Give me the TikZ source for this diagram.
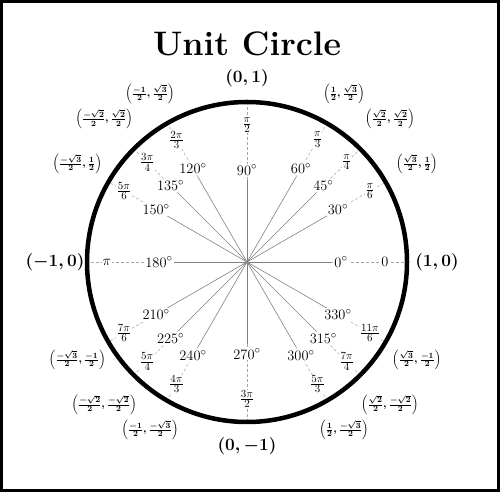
\documentclass[tikz,border=0pt]{standalone}
\usepackage{amsmath}
\usetikzlibrary{calc}
\begin{document}
\begin{tikzpicture}[x=1pt,y=1pt,
  deg/.style={fill=white,inner sep=1pt,font=\fontsize{15}{15}\selectfont},
  rad/.style={fill=white,inner sep=0.5pt,font=\fontsize{15}{15}\selectfont},
  crd/.style={inner sep=0pt,font=\fontsize{11}{11}\selectfont\boldmath},
  axc/.style={inner sep=0pt,font=\fontsize{16}{16}\selectfont\boldmath},
  spoke/.style={gray,line width=0.6pt},
  dashline/.style={gray!70,line width=0.5pt,dash pattern=on 3pt off 2pt}]
\useasboundingbox (0,0) rectangle (500,492);
\draw[line width=3pt] (1.5,1.5) rectangle (498.5,490.5);
\node[font=\fontsize{34}{34}\selectfont\bfseries] (title) at (247,448) {Unit Circle};
\coordinate (o) at (247,230);
\foreach \a/\dr/\r/\rr/\c/\cr/\s in {
  0/94/0/138/{(1,0)}/190/axc,
  30/105/{\frac{\pi}{6}}/142/{\left(\frac{\sqrt3}{2},\frac12\right)}/196/crd,
  45/108/{\frac{\pi}{4}}/141/{\left(\frac{\sqrt2}{2},\frac{\sqrt2}{2}\right)}/202/crd,
  60/108/{\frac{\pi}{3}}/141/{\left(\frac12,\frac{\sqrt3}{2}\right)}/194/crd,
  90/92/{\frac{\pi}{2}}/137/{(0,1)}/184/axc,
  120/108/{\frac{2\pi}{3}}/141/{\left(\frac{-1}{2},\frac{\sqrt3}{2}\right)}/194/crd,
  135/108/{\frac{3\pi}{4}}/141/{\left(\frac{-\sqrt2}{2},\frac{\sqrt2}{2}\right)}/202/crd,
  150/105/{\frac{5\pi}{6}}/142/{\left(\frac{-\sqrt3}{2},\frac12\right)}/196/crd,
  180/88/{\pi}/140/{(-1,0)}/192/axc,
  210/105/{\frac{7\pi}{6}}/142/{\left(\frac{-\sqrt3}{2},\frac{-1}{2}\right)}/196/crd,
  225/108/{\frac{5\pi}{4}}/141/{\left(\frac{-\sqrt2}{2},\frac{-\sqrt2}{2}\right)}/202/crd,
  240/108/{\frac{4\pi}{3}}/141/{\left(\frac{-1}{2},\frac{-\sqrt3}{2}\right)}/194/crd,
  270/92/{\frac{3\pi}{2}}/137/{(0,-1)}/184/axc,
  300/108/{\frac{5\pi}{3}}/141/{\left(\frac12,\frac{-\sqrt3}{2}\right)}/194/crd,
  315/108/{\frac{7\pi}{4}}/141/{\left(\frac{\sqrt2}{2},\frac{-\sqrt2}{2}\right)}/202/crd,
  330/105/{\frac{11\pi}{6}}/142/{\left(\frac{\sqrt3}{2},\frac{-1}{2}\right)}/196/crd}{
  \coordinate (p\a) at ($(o)+(\a:160)$);
  \coordinate (m\a) at ($(o)+(\a:\dr-10)$);
  \draw[spoke] (o) -- (m\a);
  \draw[dashline] (m\a) -- (p\a);
  \node[deg] (d\a) at ($(o)+(\a:\dr)$) {$\a^\circ$};
  \node[rad] (r\a) at ($(o)+(\a:\rr)$) {$\r$};
  \node[\s] (c\a) at ($(o)+(\a:\cr)$) {$\c$};
}
\draw[line width=4.5pt] (o) circle (160);
\end{tikzpicture}
\end{document}
